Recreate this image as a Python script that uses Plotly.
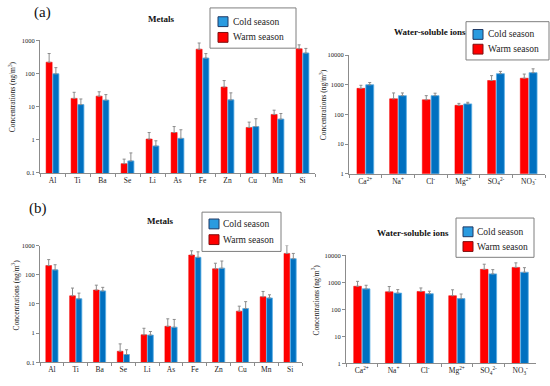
import plotly.graph_objects as go

metals = ["Al", "Ti", "Ba", "Se", "Li", "As", "Fe", "Zn", "Cu", "Mn", "Si"]
ions = ["Ca<sup>2+</sup>", "Na<sup>+</sup>", "Cl<sup>-</sup>", "Mg<sup>2+</sup>",
        "SO<sub>4</sub><sup>2-</sup>", "NO<sub>3</sub><sup>-</sup>"]
series_names = ["Cold season", "Warm season"]

# (a) metals
warm_a_met = [219, 17.7, 20.7, 0.19, 1.05, 1.65, 540, 39, 2.35, 5.8, 556]
warm_a_met_sd = [181, 9.3, 7.3, 0.07, 0.6, 0.85, 290, 22, 1.05, 2.0, 174]
cold_a_met = [98, 11.5, 15.7, 0.23, 0.65, 1.1, 292, 16, 2.5, 4.2, 415]
cold_a_met_sd = [52, 5.5, 7.3, 0.17, 0.28, 0.9, 106, 10, 1.8, 2.0, 155]
# (a) ions
warm_a_ion = [757, 337, 312, 203, 1390, 1660]
warm_a_ion_sd = [203, 193, 118, 33, 640, 630]
cold_a_ion = [1000, 430, 430, 227, 2360, 2550]
cold_a_ion_sd = [190, 100, 90, 30, 460, 890]
# (b) metals
warm_b_met = [206, 19, 30, 0.24, 0.88, 1.72, 472, 160, 5.65, 17.7, 537]
warm_b_met_sd = [124, 16, 14, 0.19, 0.59, 1.38, 188, 88, 2.75, 9.1, 463]
cold_b_met = [147, 15.1, 28, 0.186, 0.86, 1.6, 395, 168, 7, 16, 355]
cold_b_met_sd = [73, 8.4, 9, 0.084, 0.28, 1.35, 215, 127, 5, 4.6, 182]
# (b) ions
warm_b_ion = [717, 447, 460, 320, 3030, 3580]
warm_b_ion_sd = [373, 253, 160, 210, 1670, 1690]
cold_b_ion = [574, 400, 380, 250, 2060, 2370]
cold_b_ion_sd = [206, 140, 90, 120, 900, 1130]

met_ticks = [0.1, 1, 10, 100, 1000]
met_ticktext = ["0.1", "1", "10", "100", "1000"]
ion_ticks = [1, 10, 100, 1000, 10000]
ion_ticktext = ["1", "10", "100", "1000", "10000"]

W, H = 550, 386
SERIF = "Liberation Serif"
RED = "#FF0000"
BLUE = "#0070C0"

fig = go.Figure()

panels = [
    ("x", "y", metals, warm_a_met, warm_a_met_sd, cold_a_met, cold_a_met_sd),
    ("x2", "y2", ions, warm_a_ion, warm_a_ion_sd, cold_a_ion, cold_a_ion_sd),
    ("x3", "y3", metals, warm_b_met, warm_b_met_sd, cold_b_met, cold_b_met_sd),
    ("x4", "y4", ions, warm_b_ion, warm_b_ion_sd, cold_b_ion, cold_b_ion_sd),
]

for xa, ya, cats, w, wsd, c, csd in panels:
    fig.add_trace(go.Bar(
        x=cats, y=w, name=series_names[1], xaxis=xa, yaxis=ya, showlegend=False,
        marker=dict(color=RED, line=dict(color="#F00000", width=0.5)),
        error_y=dict(type="data", symmetric=False, array=wsd, arrayminus=[0] * len(wsd),
                     color="#8C8C8C", thickness=1, width=1.5),
    ))
    fig.add_trace(go.Bar(
        x=cats, y=c, name=series_names[0], xaxis=xa, yaxis=ya, showlegend=False,
        marker=dict(color=BLUE, line=dict(color="#5AAEE6", width=0.8)),
        error_y=dict(type="data", symmetric=False, array=csd, arrayminus=[0] * len(csd),
                     color="#8C8C8C", thickness=1, width=1.5),
    ))


def px_x(a, b):
    return [a / W, b / W]


def px_y(top, bottom):
    return [1 - bottom / H, 1 - top / H]


base_axis = dict(showline=True, linecolor="#8C8C8C", linewidth=1, ticks="outside",
                 ticklen=3, tickcolor="#8C8C8C", showgrid=False, zeroline=False)
xaxis_style = dict(base_axis, tickson="boundaries",
                   tickfont=dict(family=SERIF, size=7.5, color="#222"))
yaxis_style = dict(base_axis, type="log", tickfont=dict(family=SERIF, size=6.5, color="#222"))

fig.update_layout(
    xaxis=dict(domain=px_x(40, 315), anchor="y", **xaxis_style),
    yaxis=dict(domain=px_y(37, 172), anchor="x", range=[-1, 3],
               tickvals=met_ticks, ticktext=met_ticktext, **yaxis_style),
    xaxis2=dict(domain=px_x(349, 545), anchor="y2", **xaxis_style),
    yaxis2=dict(domain=px_y(52, 173), anchor="x2", range=[0, 4],
                tickvals=ion_ticks, ticktext=ion_ticktext, **yaxis_style),
    xaxis3=dict(domain=px_x(40, 302), anchor="y3", **xaxis_style),
    yaxis3=dict(domain=px_y(246, 365), anchor="x3", range=[-1, 3],
                tickvals=met_ticks, ticktext=met_ticktext, **yaxis_style),
    xaxis4=dict(domain=px_x(346, 536), anchor="y4", **xaxis_style),
    yaxis4=dict(domain=px_y(256, 366), anchor="x4", range=[0, 4],
                tickvals=ion_ticks, ticktext=ion_ticktext, **yaxis_style),
    barmode="group",
    bargap=0.46,
    bargroupgap=0.1,
    width=W, height=H,
    margin=dict(l=0, r=0, t=0, b=0),
    paper_bgcolor="white",
    plot_bgcolor="white",
    font=dict(family=SERIF, color="#222"),
)

# Hand-drawn legend boxes (pixel coords: left, top, right, bottom, icon x, text x, row y's)
legends = [
    (210, 4, 296, 45, 218, 231, (18, 34)),
    (466, 18, 549, 57, 473, 486, (31, 46)),
    (202, 212, 281, 252, 209, 221, (224, 240)),
    (456, 218, 534, 258, 463, 475, (232, 247)),
]
icon_fill = ["#2A9BE0", RED]
icon_line = ["#1F3864", "#7F1010"]


def rect(x0, y0, x1, y1, **kw):
    fig.add_shape(type="rect", xref="paper", yref="paper",
                  x0=x0 / W, x1=x1 / W, y0=1 - y1 / H, y1=1 - y0 / H, **kw)


for l, t, r, b, ix, tx, rows in legends:
    rect(l, t, r, b, line=dict(color="#7F7F7F", width=1), fillcolor="white")
    for k, yc in enumerate(rows):
        rect(ix, yc - 5, ix + 10, yc + 5, line=dict(color=icon_line[k], width=1),
             fillcolor=icon_fill[k])
        fig.add_annotation(text=series_names[k], x=tx / W, y=1 - yc / H,
                           xref="paper", yref="paper", showarrow=False,
                           xanchor="left", yanchor="middle",
                           font=dict(family=SERIF, size=9.5, color="#222"))

annos = [
    ("(a)", 42, 9, 15),
    ("(b)", 38, 208, 15),
    ("<b>Metals</b>", 161, 15, 9),
    ("<b>Water-soluble ions</b>", 430, 29, 9),
    ("<b>Metals</b>", 160, 221, 9),
    ("<b>Water-soluble ions</b>", 413, 233, 9),
]
for text, x, y, size in annos:
    fig.add_annotation(text=text, x=x / W, y=1 - y / H, xref="paper", yref="paper",
                       showarrow=False, xanchor="center", yanchor="middle",
                       font=dict(family=SERIF, size=size, color="#111"))

# Rotated y-axis titles
ytitle = "Concentrations (ng/m<sup>3</sup>)"
for x, y in [(12, 95), (323, 103), (15, 297), (315, 302)]:
    fig.add_annotation(text=ytitle, x=x / W, y=1 - y / H, xref="paper", yref="paper",
                       showarrow=False, xanchor="center", yanchor="middle",
                       textangle=-90, font=dict(family=SERIF, size=7.5, color="#222"))

fig.write_html("out.html", config={"displayModeBar": False},
               post_script="document.body.style.margin='0';")
